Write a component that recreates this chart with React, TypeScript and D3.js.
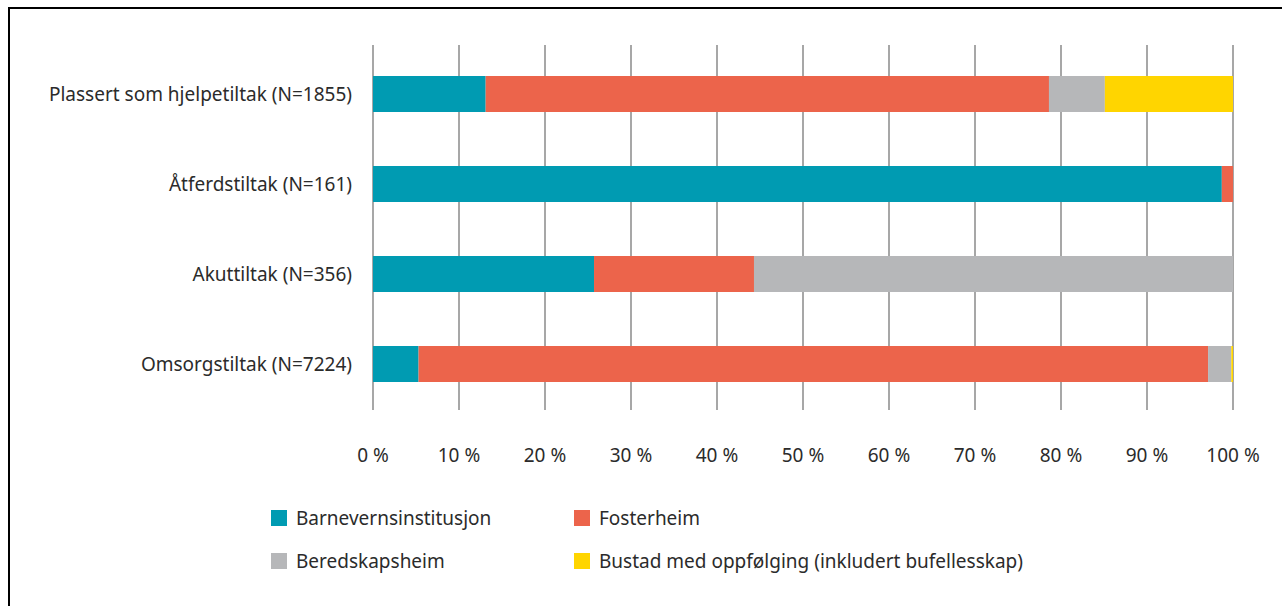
import React from "react";
import * as d3 from "d3";

const categories = [
  "Plassert som hjelpetiltak (N=1855)",
  "Åtferdstiltak (N=161)",
  "Akuttiltak (N=356)",
  "Omsorgstiltak (N=7224)",
];
const seriesNames = [
  "Barnevernsinstitusjon",
  "Fosterheim",
  "Beredskapsheim",
  "Bustad med oppfølging (inkludert bufellesskap)",
];
const barnevern = [13.1, 98.7, 25.7, 5.3];
const fosterheim = [65.5, 1.3, 18.6, 91.8];
const beredskap = [6.5, 0, 55.7, 2.7];
const bustad = [14.9, 0, 0, 0.2];
const colors = ["#009bb2", "#ec644b", "#b6b7b9", "#ffd500"];
const ticks = [0, 10, 20, 30, 40, 50, 60, 70, 80, 90, 100];

export default function App() {
  const W = 1282, H = 606;
  const x = d3.scaleLinear().domain([0, 100]).range([373, 1233]);
  const y = d3.scaleBand().domain(categories).range([49, 409]).paddingInner(0.6).paddingOuter(0.3);
  const rows = categories.map((c, i) => ({
    cat: c,
    s0: barnevern[i], s1: fosterheim[i], s2: beredskap[i], s3: bustad[i],
  }));
  const stack = d3.stack<any>().keys(["s0", "s1", "s2", "s3"])(rows);
  const font = "'Noto Sans', 'Open Sans', sans-serif";
  const fs = 19;
  const legendPos = [
    [271, 518], [574, 518], [271, 561], [574, 561],
  ];
  return (
    <svg width={W} height={H} style={{ position: "absolute", left: 0, top: 0 }} fontFamily={font}>
      <rect x={0} y={0} width={W} height={H} fill="#fff" />
      <rect x={9} y={8} width={W + 20} height={H + 20} fill="none" stroke="#000" strokeWidth={2} />
      {ticks.map((t) => (
        <line key={t} x1={x(t)} x2={x(t)} y1={45} y2={410} stroke="#8a8a8a" strokeWidth={1.5} />
      ))}
      {stack.map((layer, li) => (
        <g key={li} fill={colors[li]}>
          {layer.map((d, i) =>
            d[1] - d[0] > 0 ? (
              <rect key={i} x={x(d[0])} width={x(d[1]) - x(d[0])} y={y(categories[i])!} height={y.bandwidth()} />
            ) : null
          )}
        </g>
      ))}
      {categories.map((c) => (
        <text key={c} x={352} y={y(c)! + y.bandwidth() / 2} dy="0.35em" textAnchor="end" fontSize={fs} fill="#2b2b2b">
          {c}
        </text>
      ))}
      {ticks.map((t) => (
        <text key={t} x={x(t)} y={455} dy="0.35em" textAnchor="middle" fontSize={fs} fill="#2b2b2b">
          {t} %
        </text>
      ))}
      {seriesNames.map((s, i) => (
        <g key={s}>
          <rect x={legendPos[i][0]} y={legendPos[i][1] - 8} width={16} height={16} fill={colors[i]} />
          <text x={legendPos[i][0] + 25} y={legendPos[i][1]} dy="0.35em" fontSize={fs} fill="#2b2b2b">
            {s}
          </text>
        </g>
      ))}
    </svg>
  );
}
